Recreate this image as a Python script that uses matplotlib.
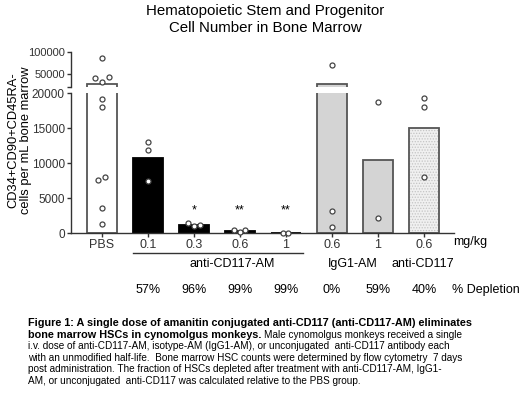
"""
HSC count in bone marrow - broken y axis bar chart with caption
"""
import numpy as np
import matplotlib
matplotlib.use('Agg')
import matplotlib.pyplot as plt
import matplotlib.transforms as mtrans

plt.rcParams.update({
    'font.family': ['Liberation Sans', 'DejaVu Sans'],
    'font.size': 8.5,
    'axes.linewidth': 1.0,
    'axes.edgecolor': '#333333',
    'xtick.color': '#333333',
    'ytick.color': '#333333',
    'hatch.linewidth': 0.6,
})

# data
groups = ['PBS', '0.1', '0.3', '0.6', '1', '0.6', '1', '0.6']
means = [25700, 10800, 1100, 300, 40, 25100, 10500, 15100]
points = [
    [86000, 39500, 30200, 43300, 19200, 18100, 7600, 8000, 3600, 1300],
    [13000, 11900, 7500],
    [1400, 950, 1100],
    [400, 150, 400],
    [50, 50],
    [71200, 3200, 900],
    [18800, 2200],
    [19300, 18000, 8000],
]
point_offsets = [
    [0, -0.15, 0, 0.15, 0, 0, -0.09, 0.07, 0, 0],
    [0, 0, 0],
    [-0.12, 0, 0.13],
    [-0.12, 0, 0.12],
    [-0.07, 0.04],
    [0, 0, 0],
    [0, 0],
    [0, 0, 0],
]
stars = {2: '*', 3: '**', 4: '**'}
depletion = ['57%', '96%', '99%', '99%', '0%', '59%', '40%']
group_names = ['anti-CD117-AM', 'IgG1-AM', 'anti-CD117']

face = ['white', 'black', 'black', 'black', 'black', '#d4d4d4', '#d4d4d4', '#f0f0f0']
edge = ['#555555', 'black', 'black', 'black', 'black', '#555555', '#555555', '#555555']

BREAK = 20000

fig = plt.figure(figsize=(5.2, 3.94), dpi=100)
ax_lo = fig.add_axes([0.1365, 0.4086, 0.7365, 0.3546])
ax_hi = fig.add_axes([0.1365, 0.78, 0.7365, 0.0873])

x = np.arange(len(groups))
for ax, upper in ((ax_lo, False), (ax_hi, True)):
    for i in range(len(groups)):
        if i == 7:
            ax.bar(x[i], means[i], width=0.65, color=face[i], edgecolor='#c4c4c4',
                   hatch='......', linewidth=0)
            ax.bar(x[i], means[i], width=0.65, fill=False, edgecolor=edge[i], linewidth=1.3)
        else:
            ax.bar(x[i], means[i], width=0.65, color=face[i], edgecolor=edge[i], linewidth=1.3)
    for i, (pts, offs) in enumerate(zip(points, point_offsets)):
        pts = np.array(pts)
        offs = np.array(offs)
        keep = pts >= BREAK if upper else pts < BREAK
        ax.plot(x[i] + offs[keep], pts[keep], 'o', ms=3.6, mfc='white', mec='#444444',
                mew=0.9, linestyle='none', zorder=5, clip_on=False)
    ax.set_xlim(-0.67, 7.65)
    ax.spines['top'].set_visible(False)
    ax.spines['right'].set_visible(False)
    ax.tick_params(axis='y', length=3, width=1.0, pad=1.5)

ax_lo.set_ylim(0, BREAK)
ax_lo.set_yticks([0, 5000, 10000, 15000, 20000])
ax_lo.tick_params(axis='y', labelsize=8.5)
ax_lo.set_xticks(x)
ax_lo.set_xticklabels(groups, fontsize=9)
ax_lo.tick_params(axis='x', length=3, width=1.0, pad=1.5)

ax_hi.set_ylim(BREAK, 100000)
ax_hi.set_yticks([20000, 50000, 100000])
ax_hi.set_yticklabels(['', '50000', '100000'])
ax_hi.tick_params(axis='y', labelsize=8)
ax_hi.spines['bottom'].set_visible(False)
ax_hi.set_xticks([])

for i, s in stars.items():
    ax_lo.text(x[i], 3300, s, ha='center', va='center', fontsize=9)

H = 394.0
tr = mtrans.blended_transform_factory(ax_lo.transData, fig.transFigure)
fy = lambda py: 1 - py / H

ax_lo.text(8.0, fy(242), 'mg/kg', transform=tr, ha='center', va='center', fontsize=9)
ax_lo.plot([0.67, 4.37], [fy(252.7)] * 2, transform=tr, color='#333333', lw=1.0, clip_on=False)
for name, xp in zip(group_names, [2.83, 5.46, 6.98]):
    ax_lo.text(xp, fy(264), name, transform=tr, ha='center', va='center', fontsize=9)
for i, d in enumerate(depletion):
    ax_lo.text(i + 1, fy(290), d, transform=tr, ha='center', va='center', fontsize=9)
ax_lo.text(7.6, fy(290), '% Depletion', transform=tr, ha='left', va='center', fontsize=9)

fig.text(20 / 520, fy(140), 'CD34+CD90+CD45RA-\ncells per mL bone marrow', rotation=90,
         ha='center', va='center', fontsize=9.3, linespacing=1.1)
fig.text(0.51, fy(19.5), 'Hematopoietic Stem and Progenitor\nCell Number in Bone Marrow',
         ha='center', va='center', fontsize=10.8, linespacing=1.2)

# caption
cap_x = 28 / 520
cap_y = [323, 335, 346, 358, 369, 381]
fig.text(cap_x, fy(cap_y[0]),
         'Figure 1: A single dose of amanitin conjugated anti-CD117 (anti-CD117-AM) eliminates',
         fontsize=7.8, fontweight='bold', va='center')
b = fig.text(cap_x, fy(cap_y[1]), 'bone marrow HSCs in cynomolgus monkeys.',
             fontsize=7.8, fontweight='bold', va='center')
rend = fig.canvas.get_renderer()
bb = b.get_window_extent(renderer=rend)
fig.text(bb.x1 / fig.bbox.width + 0.006, fy(cap_y[1]),
         'Male cynomolgus monkeys received a single', fontsize=7.2, va='center')
rest = [
    'i.v. dose of anti-CD117-AM, isotype-AM (IgG1-AM), or unconjugated  anti-CD117 antibody each',
    'with an unmodified half-life.  Bone marrow HSC counts were determined by flow cytometry  7 days',
    'post administration. The fraction of HSCs depleted after treatment with anti-CD117-AM, IgG1-',
    'AM, or unconjugated  anti-CD117 was calculated relative to the PBS group.',
]
for yy, line in zip(cap_y[2:], rest):
    fig.text(cap_x, fy(yy), line, fontsize=7.2, va='center')

plt.savefig('out.png', dpi=100, facecolor='white')
plt.close()
